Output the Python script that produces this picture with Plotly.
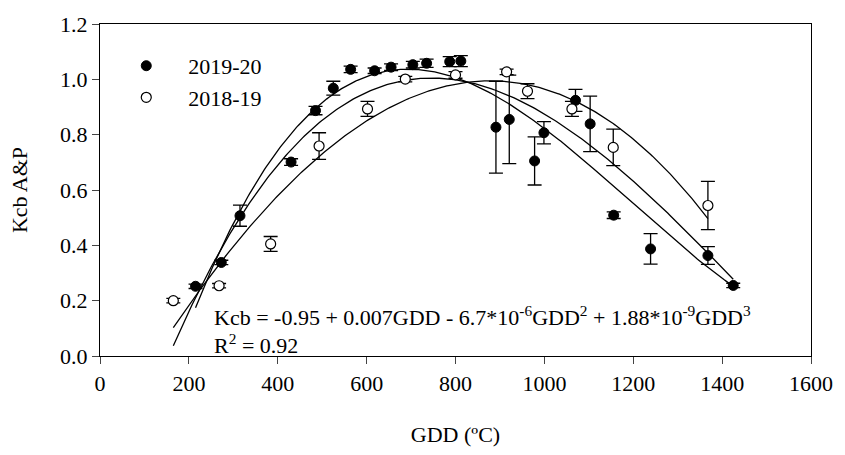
import numpy as np
import plotly.graph_objects as go

# 2019-20 (filled)
gdd_2019 = [215, 273, 315, 430, 485, 525, 564, 618, 655, 704, 735, 787, 812,
            891, 921, 978, 999, 1070, 1103, 1156, 1239, 1368, 1425]
kcb_2019 = [0.252, 0.338, 0.507, 0.701, 0.887, 0.968, 1.036, 1.031, 1.044, 1.053, 1.058, 1.064, 1.066,
            0.827, 0.855, 0.705, 0.807, 0.924, 0.839, 0.509, 0.387, 0.363, 0.255]
err_2019 = [0.008, 0.008, 0.038, 0.012, 0.015, 0.025, 0.012, 0.010, 0.012, 0.012, 0.015, 0.018, 0.020,
            0.166, 0.160, 0.087, 0.040, 0.040, 0.100, 0.012, 0.055, 0.032, 0.008]

# 2018-19 (open)
gdd_2018 = [165, 268, 384, 493, 602, 687, 800, 915, 962, 1062, 1155, 1368]
kcb_2018 = [0.200, 0.254, 0.405, 0.759, 0.893, 1.001, 1.016, 1.027, 0.957, 0.893, 0.754, 0.544]
err_2018 = [0.008, 0.008, 0.027, 0.048, 0.027, 0.010, 0.012, 0.010, 0.027, 0.027, 0.066, 0.087]

series_names = ["2019-20", "2018-19"]
x_ticks = [0, 200, 400, 600, 800, 1000, 1200, 1400, 1600]
y_ticks = [0.0, 0.2, 0.4, 0.6, 0.8, 1.0, 1.2]
eq_line1 = "Kcb = -0.95 + 0.007GDD - 6.7*10<sup>-6</sup>GDD<sup>2</sup> + 1.88*10<sup>-9</sup>GDD<sup>3</sup>"
eq_line2 = "R<sup>2</sup> = 0.92"

FONT = "Liberation Serif, Times New Roman, serif"
FS = 22
LW = 1.3

fig = go.Figure()


def fit_curve(xs, ys):
    xs = np.asarray(xs, float)
    ys = np.asarray(ys, float)
    c = np.polyfit(xs, ys, 3)
    xx = np.linspace(xs.min(), xs.max(), 300)
    return xx, np.polyval(c, xx)


for xs, ys in [(gdd_2019, kcb_2019), (gdd_2018, kcb_2018),
               (gdd_2019 + gdd_2018, kcb_2019 + kcb_2018)]:
    xx, yy = fit_curve(xs, ys)
    fig.add_trace(go.Scatter(x=xx, y=yy, mode="lines", line=dict(color="black", width=LW),
                             showlegend=False, hoverinfo="skip"))

fig.add_trace(go.Scatter(
    x=gdd_2019, y=kcb_2019, mode="markers", name=series_names[0],
    marker=dict(symbol="circle", size=10, color="black", line=dict(color="black", width=1)),
    error_y=dict(type="data", array=err_2019, visible=True, color="black", thickness=LW, width=7),
))
fig.add_trace(go.Scatter(
    x=gdd_2018, y=kcb_2018, mode="markers", name=series_names[1],
    marker=dict(symbol="circle", size=10, color="white", line=dict(color="black", width=1.2)),
    error_y=dict(type="data", array=err_2018, visible=True, color="black", thickness=LW, width=7),
))

fig.add_annotation(x=0.157, y=0.145, xref="paper", yref="y", xanchor="left", yanchor="middle",
                   text=eq_line1, showarrow=False, font=dict(family=FONT, size=FS, color="black"))
fig.add_annotation(x=0.157, y=0.045, xref="paper", yref="y", xanchor="left", yanchor="middle",
                   text=eq_line2, showarrow=False, font=dict(family=FONT, size=FS, color="black"))

fig.update_layout(
    width=845, height=455,
    margin=dict(l=100, r=26, t=22, b=89),
    plot_bgcolor="white", paper_bgcolor="white",
    font=dict(family=FONT, size=FS, color="black"),
    legend=dict(x=0.006, y=0.937, xanchor="left", yanchor="top", bgcolor="rgba(0,0,0,0)",
                font=dict(family=FONT, size=FS), itemwidth=74, tracegroupgap=0),
    xaxis=dict(range=[0, 1600], tickvals=x_ticks, ticks="outside", ticklen=7, tickwidth=LW,
               showline=True, linecolor="black", linewidth=LW, mirror=True,
               showgrid=False, zeroline=False,
               title=dict(text="GDD (ºC)", standoff=32, font=dict(size=FS))),
    yaxis=dict(range=[0, 1.2], tickvals=y_ticks, tickformat=".1f", ticks="outside", ticklen=7,
               tickwidth=LW, showline=True, linecolor="black", linewidth=LW, mirror=True,
               showgrid=False, zeroline=False,
               title=dict(text="Kcb A&P", standoff=26, font=dict(size=FS))),
)

fig.write_html("out.html")
